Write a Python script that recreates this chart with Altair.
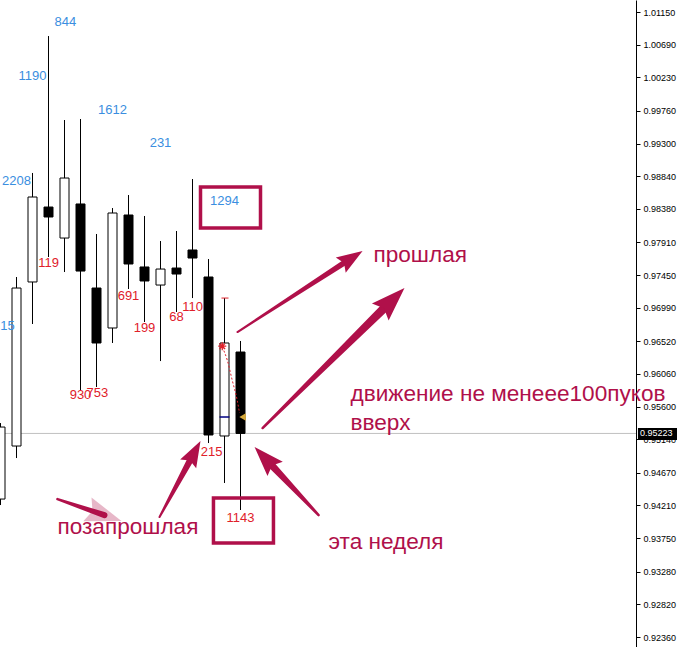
import math
import altair as alt
import pandas as pd

# ---------------- data ----------------
candle_idx = list(range(16))
opens  = [0.94300, 0.95046, 0.97353, 0.98407, 0.97971, 0.98450, 0.97268, 0.96706,
          0.98295, 0.97564, 0.97310, 0.97549, 0.97803, 0.97423, 0.95187, 0.96368]
highs  = [0.95369, 0.97423, 0.98886, 1.00812, 0.99631, 0.99645, 0.98028, 0.98393,
          0.98576, 0.98281, 0.97929, 0.98070, 0.98801, 0.97676, 0.97127, 0.96523]
lows   = [0.94216, 0.94877, 0.96762, 0.97704, 0.97493, 0.95834, 0.95876, 0.96495,
          0.97254, 0.96790, 0.96241, 0.96931, 0.97127, 0.95088, 0.94526, 0.94146]
closes = [0.95313, 0.97268, 0.98548, 0.98267, 0.98815, 0.97507, 0.96495, 0.98323,
          0.97606, 0.97367, 0.97535, 0.97465, 0.97690, 0.95201, 0.96495, 0.95223]

label_text  = ["15", "2208", "1190", "844", "1612", "231", "1294",
               "119", "930", "753", "691", "199", "68", "110", "215", "1143"]
label_x     = [0.44, 1.0, 2.0, 4.06, 7.0, 10.0, 14.0,
               3.0, 5.0, 6.05, 8.0, 9.0, 11.0, 12.0, 13.2, 15.0]
label_price = [0.96734, 0.98773, 1.00250, 1.01009, 0.99772, 0.99308, 0.98492,
               0.97620, 0.95763, 0.95791, 0.97156, 0.96706, 0.96860, 0.97001, 0.94961, 0.94033]
label_kind  = ["hi"] * 7 + ["lo"] * 9

tick_values = [1.0115, 1.0069, 1.0023, 0.9976, 0.9930, 0.9884, 0.9838, 0.9791, 0.9745, 0.9699,
               0.9652, 0.9606, 0.9560, 0.9514, 0.9467, 0.9421, 0.9375, 0.9328, 0.9282, 0.9236]
current_price = 0.95223

box_x1 = [12.5, 13.31]
box_x2 = [16.25, 17.06]
box_p1 = [0.98689, 0.94315]
box_p2 = [0.98112, 0.93682]

arrow_tail_x = [14.81, 16.38, 19.88, 9.94, 3.56]
arrow_tail_p = [0.96649, 0.95299, 0.94075, 0.94047, 0.94300]
arrow_tip_x  = [22.63, 25.25, 15.88, 12.50, 7.56]
arrow_tip_p  = [0.97789, 0.97268, 0.95032, 0.95116, 0.93991]

note_text = ["прошлая", "движение не менеее100пуков", "вверх", "позапрошлая", "эта неделя"]
note_x    = [23.31, 21.875, 21.875, 3.56, 20.5]
note_p    = [0.97634, 0.95679, 0.95271, 0.93808, 0.93597]

dots_x = [13.86, 14.17, 14.48, 14.79, 14.94]
dots_p = [0.96438, 0.96256, 0.95974, 0.95693, 0.95510]
star_x, star_p = 13.86, 0.96450
tri_x, tri_p = 15.13, 0.95454
dash_x1, dash_x2, dash_p = 13.69, 14.31, 0.95454
redtick_x1, redtick_x2, redtick_p = 13.81, 14.25, 0.97127

# ---------------- styling ----------------
CRIMSON = "#B0104A"
BLUE = "#3A8EE0"
RED = "#E0202A"
FONT = "Liberation Sans"
PX_X = 16.0      # pixels per candle (used for arrow-head angles)
PX_P = 7110.0    # pixels per price unit

xs = alt.Scale(domain=[-0.03125, 39.71875], nice=False, zero=False, padding=0)
ys = alt.Scale(domain=[0.922194, 1.013188], nice=False, zero=False, padding=0)
Y_AXIS = alt.Axis(
    orient="right", values=tick_values, format=".5f", title=None, grid=False,
    labelFont=FONT, labelFontSize=9, labelColor="black", tickColor="black",
    tickSize=4, domainColor="black", domainWidth=1, labelPadding=3,
    labelFlush=False, labelOverlap=False, labelBound=False, zindex=0)


def X(f):
    return alt.X(f, scale=xs, axis=None)


def Y(f):
    return alt.Y(f, scale=ys, axis=Y_AXIS)


df = pd.DataFrame({"i": candle_idx, "open": opens, "high": highs, "low": lows, "close": closes})
df["lo"] = df[["open", "close"]].min(axis=1)
df["hi"] = df[["open", "close"]].max(axis=1)
df["fill"] = ["white" if c >= o else "black" for o, c in zip(opens, closes)]

price_line = alt.Chart(pd.DataFrame({"p": [current_price]})).mark_rule(
    color="#C0C0C0", strokeWidth=1).encode(y=Y("p:Q"))

wicks = alt.Chart(df).mark_rule(color="black", strokeWidth=1, clip=True).encode(
    x=X("i:Q"), y=Y("low:Q"), y2="high:Q")

bodies = alt.Chart(df).mark_bar(size=9, stroke="black", strokeWidth=1, clip=True).encode(
    x=X("i:Q"), y=Y("lo:Q"), y2="hi:Q", fill=alt.Fill("fill:N", scale=None))

labs = pd.DataFrame({"t": label_text, "x": label_x, "p": label_price,
                     "c": [BLUE if k == "hi" else RED for k in label_kind]})
labels = alt.Chart(labs).mark_text(font=FONT, fontSize=13, align="center",
                                   baseline="middle", clip=True).encode(
    x=X("x:Q"), y=Y("p:Q"), text="t:N", color=alt.Color("c:N", scale=None))

boxes = alt.Chart(pd.DataFrame({"x1": box_x1, "x2": box_x2, "p1": box_p1, "p2": box_p2})).mark_rect(
    filled=False, stroke=CRIMSON, strokeWidth=3.5).encode(
    x=X("x1:Q"), x2="x2:Q", y=Y("p1:Q"), y2="p2:Q")

redtick = alt.Chart(pd.DataFrame({"x1": [redtick_x1], "x2": [redtick_x2], "p": [redtick_p]})).mark_rule(
    color=RED, strokeWidth=1).encode(x=X("x1:Q"), x2="x2:Q", y=Y("p:Q"))

navydash = alt.Chart(pd.DataFrame({"x1": [dash_x1], "x2": [dash_x2], "p": [dash_p]})).mark_rule(
    color="#000080", strokeWidth=1.5).encode(x=X("x1:Q"), x2="x2:Q", y=Y("p:Q"))

dots = alt.Chart(pd.DataFrame({"x": dots_x, "p": dots_p, "o": list(range(len(dots_x)))})).mark_line(
    color=RED, strokeWidth=1, strokeDash=[2, 2], interpolate="monotone").encode(
    x=X("x:Q"), y=Y("p:Q"), order="o:Q")

star = alt.Chart(pd.DataFrame({"x": [star_x], "p": [star_p]})).mark_point(
    shape="M-1,0L1,0M0,-1L0,1M-0.7,-0.7L0.7,0.7M-0.7,0.7L0.7,-0.7",
    filled=False, stroke=RED, strokeWidth=1.3, size=64, opacity=1).encode(
    x=X("x:Q"), y=Y("p:Q"))

tri = alt.Chart(pd.DataFrame({"x": [tri_x], "p": [tri_p]})).mark_point(
    shape="triangle-left", filled=True, color="#D4A83A", size=55, opacity=1).encode(
    x=X("x:Q"), y=Y("p:Q"))

# arrows: shaft as a tapering trail, head as a rotated custom symbol
head_len = [26, 34, 30, 26, 36]
shaft_w0 = [2, 2.5, 2.5, 2, 2.5]
shaft_w1 = [6, 9, 8, 7, 6]
head_op = [1, 1, 1, 1, 0.3]
trail_rows, head_rows = [], []
for k in range(len(arrow_tail_x)):
    dxs = (arrow_tip_x[k] - arrow_tail_x[k]) * PX_X
    dys = -(arrow_tip_p[k] - arrow_tail_p[k]) * PX_P
    n = math.hypot(dxs, dys)
    ux, uy = dxs / n, dys / n
    L = head_len[k]
    cx = arrow_tip_x[k] - (L / 2) * ux / PX_X
    cp = arrow_tip_p[k] + (L / 2) * uy / PX_P
    trail_rows.append({"a": k, "o": 0, "x": arrow_tail_x[k], "p": arrow_tail_p[k], "w": shaft_w0[k]})
    trail_rows.append({"a": k, "o": 1, "x": cx, "p": cp, "w": shaft_w1[k]})
    ang = (math.degrees(math.atan2(ux, -uy)) + 360) % 360
    head_rows.append({"x": cx, "p": cp, "ang": ang, "sz": L * L, "op": head_op[k]})

shafts = alt.Chart(pd.DataFrame(trail_rows)).mark_trail(color=CRIMSON).encode(
    x=X("x:Q"), y=Y("p:Q"), size=alt.Size("w:Q", scale=None), detail="a:N", order="o:Q")

heads = alt.Chart(pd.DataFrame(head_rows)).mark_point(
    shape="M0,-1L0.7,1L0,0.7L-0.7,1Z", filled=True, color=CRIMSON, strokeWidth=0).encode(
    x=X("x:Q"), y=Y("p:Q"),
    angle=alt.Angle("ang:Q", scale=None), size=alt.Size("sz:Q", scale=None),
    opacity=alt.Opacity("op:Q", scale=None))

notes = alt.Chart(pd.DataFrame({"t": note_text, "x": note_x, "p": note_p})).mark_text(
    font=FONT, fontSize=22.6, align="left", baseline="alphabetic", color=CRIMSON).encode(
    x=X("x:Q"), y=Y("p:Q"), text="t:N")

# current price tag on the axis
tag = pd.DataFrame({"x1": [39.84], "x2": [42.4], "p1": [0.95299], "p2": [0.95130],
                    "tx": [39.97], "p": [current_price], "t": [f"{current_price:.5f}"]})
tag_rect = alt.Chart(tag).mark_rect(color="black").encode(
    x=X("x1:Q"), x2="x2:Q", y=Y("p1:Q"), y2="p2:Q")
tag_text = alt.Chart(tag).mark_text(font=FONT, fontSize=9, color="white", align="left",
                                    baseline="middle").encode(
    x=X("tx:Q"), y=Y("p:Q"), text="t:N")

chart = alt.layer(
    price_line, wicks, bodies, redtick, navydash, labels, boxes, dots, star, tri,
    shafts, heads, notes, tag_rect, tag_text
).properties(
    width=636, height=647,
    padding={"left": 0, "right": 41, "top": 0, "bottom": 0},
    autosize=alt.AutoSizeParams(type="none"),
    background="white",
).configure_view(stroke=None)

chart.save("out.html", embed_options={"renderer": "svg", "actions": False})
